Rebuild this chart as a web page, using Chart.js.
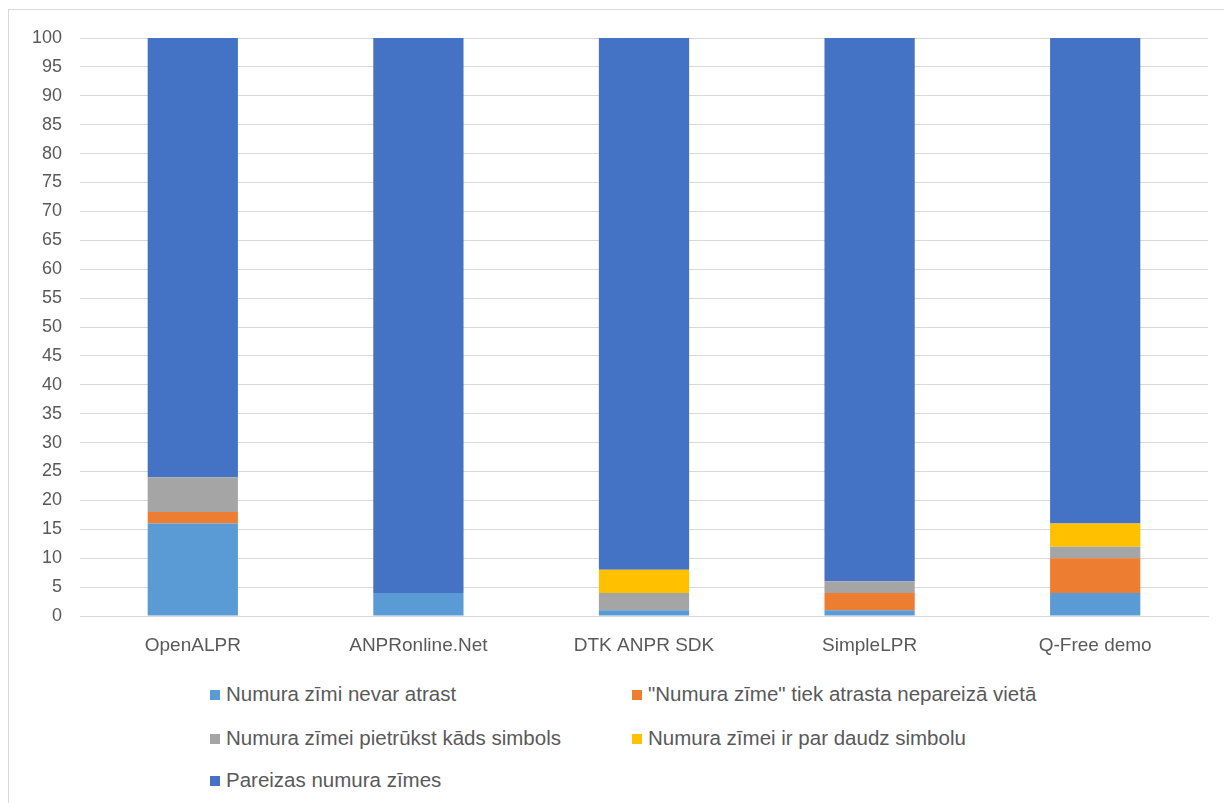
<!DOCTYPE html>
<html>
<head>
<meta charset="utf-8">
<script src="https://cdn.jsdelivr.net/npm/chart.js@4.4.1/dist/chart.umd.min.js"></script>
<style>
  html, body { margin: 0; padding: 0; background: #fff; overflow: hidden; }
  body { width: 1224px; height: 803px; position: relative; font-family: "Liberation Sans", sans-serif; }
  #frame { position: absolute; left: 8px; top: 9px; width: 1240px; height: 820px; border: 1px solid #d9d9d9; box-sizing: border-box; }
  #wrap { position: absolute; left: 0; top: 0; width: 1224px; height: 670px; }
  .leg { position: absolute; font-size: 20.5px; color: #595959; line-height: 22px; white-space: nowrap; }
  .leg i { display: inline-block; width: 10px; height: 10px; margin-right: 6px; vertical-align: 1px; }
</style>
</head>
<body>
<div id="frame"></div>
<div id="wrap"><canvas id="chart"></canvas></div>
<div id="legend"></div>
<script>
// ── 資料 ──
const categories = ['OpenALPR', 'ANPRonline.Net', 'DTK ANPR SDK', 'SimpleLPR', 'Q-Free demo'];
const seriesNames = [
  'Numura zīmi nevar atrast',
  '"Numura zīme" tiek atrasta nepareizā vietā',
  'Numura zīmei pietrūkst kāds simbols',
  'Numura zīmei ir par daudz simbolu',
  'Pareizas numura zīmes',
];
const notFound   = [16, 4, 1, 1, 4];
const wrongPlace = [2, 0, 0, 3, 6];
const missing    = [6, 0, 3, 2, 2];
const tooMany    = [0, 0, 4, 0, 4];
const correct    = [76, 96, 92, 94, 84];

const colors = ['#5b9bd5', '#ed7d31', '#a5a5a5', '#ffc000', '#4472c4'];
const values = [notFound, wrongPlace, missing, tooMany, correct];

const TXT = '#595959';
const GRID = '#d9d9d9';
const FAMILY = '"Liberation Sans", sans-serif';

new Chart(document.getElementById('chart'), {
  type: 'bar',
  data: {
    labels: categories,
    datasets: seriesNames.map((name, i) => ({
      label: name,
      data: values[i],
      backgroundColor: colors[i],
      borderWidth: 0,
      categoryPercentage: 1,
      barPercentage: 0.4,
    })),
  },
  options: {
    responsive: true,
    maintainAspectRatio: false,
    animation: false,
    layout: { padding: { left: 0, right: 16, top: 38, bottom: 0 } },
    plugins: { legend: { display: false }, tooltip: { enabled: false } },
    scales: {
      x: {
        stacked: true,
        grid: { display: false },
        border: { color: GRID },
        ticks: { color: TXT, font: { family: FAMILY, size: 19 }, padding: 10 },
        afterFit: s => { s.height = 54; },
      },
      y: {
        stacked: true,
        min: 0,
        max: 100,
        grid: { color: GRID, drawTicks: false },
        border: { display: false },
        ticks: { stepSize: 5, color: TXT, font: { family: FAMILY, size: 18 }, padding: 18 },
        afterFit: s => { s.width = 80; },
      },
    },
  },
});

// ── 圖例（兩欄） ──
const legPos = [[210, 683], [632, 683], [210, 727], [632, 727], [210, 769]];
document.getElementById('legend').innerHTML = seriesNames.map((n, i) =>
  `<div class="leg" style="left:${legPos[i][0]}px;top:${legPos[i][1]}px"><i style="background:${colors[i]}"></i>${n.replace(/"/g, '&quot;')}</div>`
).join('');
</script>
</body>
</html>
